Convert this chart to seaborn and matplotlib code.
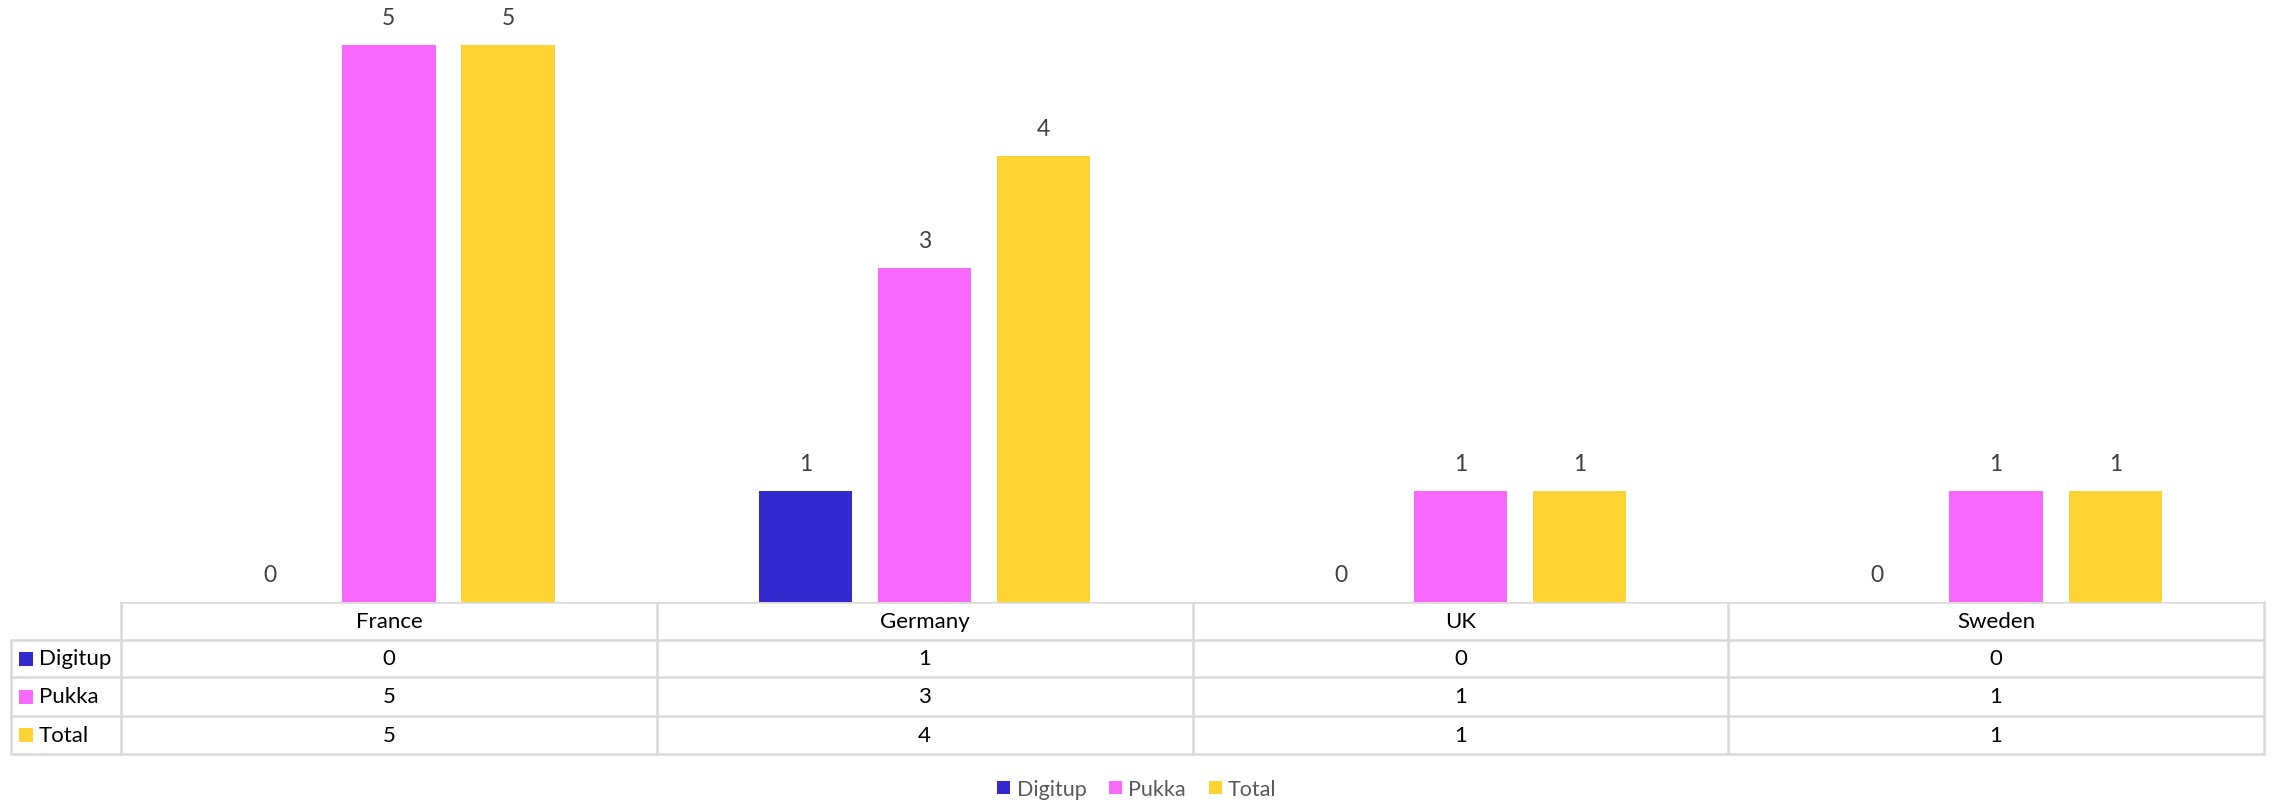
import matplotlib
matplotlib.use("Agg")
import matplotlib.pyplot as plt
from matplotlib.patches import Rectangle
import seaborn as sns
import pandas as pd

countries = ["France", "Germany", "UK", "Sweden"]
series_names = ["Digitup", "Pukka", "Total"]
digitup = [0, 1, 0, 0]
pukka = [5, 3, 1, 1]
total = [5, 4, 1, 1]
colors = ["#3229CF", "#F968FD", "#FFD332"]

values = {"Digitup": digitup, "Pukka": pukka, "Total": total}
rows = []
for s in series_names:
    for c, v in zip(countries, values[s]):
        rows.append({"country": c, "series": s, "value": v})
df = pd.DataFrame(rows)

sns.set_theme(style="white")
plt.rcParams["font.family"] = ["Lato", "DejaVu Sans"]

W, H = 2274, 804
fig = plt.figure(figsize=(W / 100, H / 100), dpi=100)

# geometry in pixels
px_left, px_right = 121, 2264
px_base = 603
unit = 111.5

ax = fig.add_axes([px_left / W, (H - px_base) / H, (px_right - px_left) / W, px_base / H])
sns.barplot(data=df, x="country", y="value", hue="series", order=countries,
            hue_order=series_names, palette=colors, width=0.667, gap=0.216,
            ax=ax, saturation=1, legend=True, edgecolor="none")
ax.set_xlim(-0.5, len(countries) - 0.5)
ax.set_ylim(0, px_base / unit)
for sp in ax.spines.values():
    sp.set_visible(False)
ax.set_xticks([])
ax.set_yticks([])
ax.set_xlabel("")
ax.set_ylabel("")

for cont in ax.containers:
    ax.bar_label(cont, labels=[f"{int(v)}" for v in cont.datavalues], padding=12,
                 fontsize=16.5, color="#404040")

handles, labels = ax.get_legend_handles_labels()
ax.get_legend().remove()

# data table in pixel coordinates
tab = fig.add_axes([0, 0, 1, 1], zorder=-1)
tab.set_xlim(0, W)
tab.set_ylim(H, 0)
tab.axis("off")
grid_c = "#D9D9D9"
lw = 1.8
row_y = [603, 641, 678, 717, 755]
left_edge = 11
cat_w = (px_right - px_left) / len(countries)
xs = [px_left + i * cat_w for i in range(len(countries) + 1)]
tab.plot([px_left, px_right], [row_y[0]] * 2, color=grid_c, lw=lw)
for y in row_y[1:]:
    tab.plot([left_edge, px_right], [y, y], color=grid_c, lw=lw)
tab.plot([left_edge, left_edge], [row_y[1], row_y[-1]], color=grid_c, lw=lw)
for x in xs:
    tab.plot([x, x], [row_y[0], row_y[-1]], color=grid_c, lw=lw)

tfs = 16
for i, c in enumerate(countries):
    cx = px_left + (i + 0.5) * cat_w
    tab.text(cx, (row_y[0] + row_y[1]) / 2, c, ha="center", va="center",
             fontsize=tfs, color="#000000")
    for r, s in enumerate(series_names):
        tab.text(cx, (row_y[r + 1] + row_y[r + 2]) / 2, str(values[s][i]),
                 ha="center", va="center", fontsize=tfs, color="#000000")

for r, s in enumerate(series_names):
    cy = (row_y[r + 1] + row_y[r + 2]) / 2
    tab.add_patch(Rectangle((19, cy - 7), 14, 14, color=colors[r], lw=0))
    tab.text(39, cy, s, ha="left", va="center", fontsize=tfs, color="#000000")

fig.legend(handles, labels, loc="center", bbox_to_anchor=(0.5, 1 - 790 / H),
           ncol=3, frameon=False, fontsize=15.5, labelcolor="#595959",
           handlelength=0.6, handleheight=0.6, handletextpad=0.3, columnspacing=1.05)

fig.savefig("out.png", dpi=100)
